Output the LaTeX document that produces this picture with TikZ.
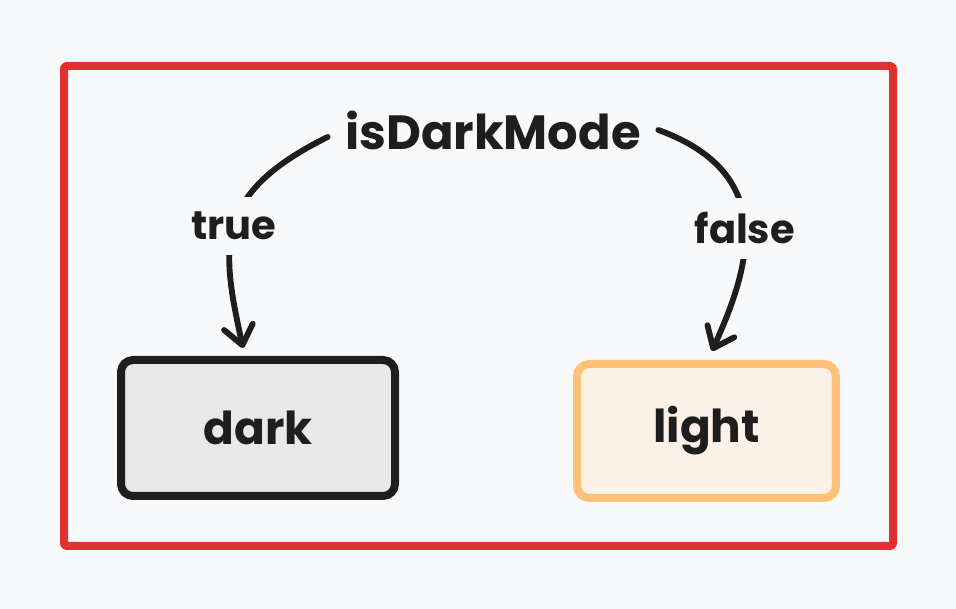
\documentclass[tikz,border=0pt]{standalone}
\usepackage{fontspec}
\setmainfont{Poppins}
\usetikzlibrary{arrows.meta}
\definecolor{bg}{HTML}{F8F9FB}
\definecolor{ink}{HTML}{1E1E1E}
\definecolor{redline}{HTML}{E03131}
\definecolor{darkfill}{HTML}{E8E8E8}
\definecolor{lightline}{HTML}{FFC078}
\definecolor{lightfill}{HTML}{FBF1E7}

\begin{document}
\begin{tikzpicture}[x=0.75pt, y=0.75pt, line cap=round, line join=round,
    frame/.style = {draw=redline, line width=6pt, rounded corners=2pt},
    box/.style = {draw, line width=6pt, rounded corners=9pt, text=ink, font=\fontsize{34}{40}\selectfont\bfseries},
    mode/.style = {inner xsep=13pt, text=ink, font=\fontsize{36}{42}\selectfont\bfseries},
    lbl/.style = {fill=bg, inner sep=11pt, text=ink, font=\fontsize{30}{36}\selectfont\bfseries},
    arrow/.style = {draw=ink, line width=4.4pt, -{Straight Barb[length=14pt, width=22pt, round]}}]
        \fill[bg] (0,0) rectangle (956,609);
        \useasboundingbox (0,0) rectangle (956,609);
        \draw[frame] (64,63) rectangle (893,543);

        \node[mode] (mode) at (493,479) {isDarkMode};
        \node[box, draw=ink, fill=darkfill, minimum width=205.5pt, minimum height=102pt] (dark) at (258,181) {dark};
        \node[box, draw=lightline, fill=lightfill, minimum width=194pt, minimum height=100.5pt] (light) at (706.5,178) {light};

        \draw[arrow] ([shift={(0,-7)}]mode.west) .. controls +(-115,-57) and +(-22,101) .. ([shift={(-15,8)}]dark.north) node [lbl, midway] {true};
        \draw[arrow] (mode.east) .. controls +(124,-45) and +(35,78) .. ([shift={(5.5,9)}]light.north) node [lbl, midway] {false};

    \end{tikzpicture}
\end{document}
